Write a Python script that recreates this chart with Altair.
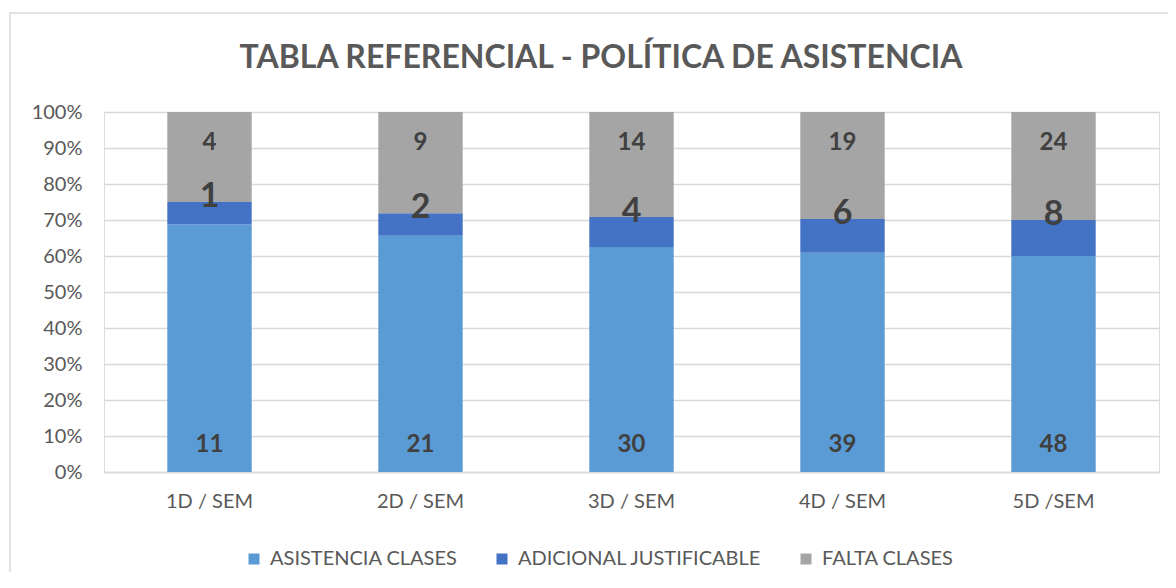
import altair as alt
import pandas as pd

categories = ["1D / SEM", "2D / SEM", "3D / SEM", "4D / SEM", "5D /SEM"]
asistencia = [11, 21, 30, 39, 48]
adicional = [1, 2, 4, 6, 8]
falta = [4, 9, 14, 19, 24]
series = ["ASISTENCIA CLASES", "ADICIONAL JUSTIFICABLE", "FALTA CLASES"]
colors = ["#5B9BD5", "#4472C4", "#A5A5A5"]
ticks = [0, 0.1, 0.2, 0.3, 0.4, 0.5, 0.6, 0.7, 0.8, 0.9, 1.0]
title_text = ["TABLA REFERENCIAL - POLÍTICA DE ASISTENCIA"]

rows = []
for i, c in enumerate(categories):
    for k, (s, vals) in enumerate(zip(series, [asistencia, adicional, falta])):
        rows.append({"cat": c, "serie": s, "ord": k, "value": vals[i]})
df = pd.DataFrame(rows)

FONT = "Lato"
TXT = "#404040"
GRAY = "#595959"

base = alt.Chart(df).transform_stack(
    stack="value", groupby=["cat"], as_=["y0", "y1"], offset="normalize",
    sort=[alt.SortField("ord", order="ascending")]
)

xaxis = alt.Axis(title=None, labelAngle=0, labelFontSize=20, labelColor=GRAY,
                 labelFont=FONT, labelPadding=19, ticks=False,
                 domainColor="#D9D9D9", domainWidth=1.5, grid=False)
xscale = alt.Scale(paddingInner=0.6, paddingOuter=0.3)
yaxis = alt.Axis(title=None, format=".0%", values=ticks, tickCount=11,
                 labelFontSize=20, labelColor=GRAY, labelFont=FONT, labelPadding=22,
                 labelOverlap=False, domain=False, ticks=False,
                 gridColor="#D9D9D9", gridWidth=1.5)
yscale = alt.Scale(domain=[0, 1], nice=False)

bars = base.mark_bar().encode(
    x=alt.X("cat:N", sort=categories, scale=xscale, axis=xaxis),
    y=alt.Y("y1:Q", scale=yscale, axis=yaxis),
    y2="y0",
    color=alt.Color("serie:N", scale=alt.Scale(domain=series, range=colors),
                    legend=alt.Legend(title=None, orient="none", legendX=140, legendY=437,
                                      direction="horizontal", symbolType="square",
                                      symbolSize=121, symbolStrokeWidth=0,
                                      labelFontSize=20, labelColor=GRAY, labelFont=FONT,
                                      labelLimit=0, columnPadding=34, padding=0,
                                      labelOffset=6)),
    order=alt.Order("ord:Q"),
)

lab_asis = base.transform_filter(alt.datum.serie == series[0]).mark_text(
    fontSize=24, fontWeight="bold", color=TXT, font=FONT, dy=-27, baseline="middle"
).encode(x=alt.X("cat:N", sort=categories, scale=xscale, axis=xaxis),
         y=alt.Y(datum=0, scale=yscale, axis=yaxis), text="value:Q")

lab_adic = base.transform_filter(alt.datum.serie == series[1]).mark_text(
    fontSize=34, fontWeight="bold", color=TXT, font=FONT, dy=-5, baseline="middle"
).encode(x=alt.X("cat:N", sort=categories, scale=xscale, axis=xaxis),
         y=alt.Y("y1:Q", scale=yscale, axis=yaxis), text="value:Q")

lab_falta = base.transform_filter(alt.datum.serie == series[2]).mark_text(
    fontSize=24, fontWeight="bold", color=TXT, font=FONT, dy=31, baseline="middle"
).encode(x=alt.X("cat:N", sort=categories, scale=xscale, axis=xaxis),
         y=alt.Y(datum=1, scale=yscale, axis=yaxis), text="value:Q")

border = alt.Chart(pd.DataFrame({"a": [0]})).mark_rect(
    fill=None, stroke="#D9D9D9", strokeWidth=1.5
).encode(x=alt.value(-94), x2=alt.value(1150), y=alt.value(-99), y2=alt.value(560))

title = alt.Chart(pd.DataFrame({"t": title_text})).mark_text(
    fontSize=32, fontWeight="bold", color=GRAY, font=FONT, align="center",
    baseline="alphabetic"
).encode(x=alt.value(497), y=alt.value(-44), text="t:N")

chart = alt.layer(border, bars, lab_asis, lab_adic, lab_falta, title).properties(
    width=1055, height=360,
    autosize=alt.AutoSizeParams(type="none"),
    padding={"left": 96, "top": 104, "right": 9, "bottom": 100},
).configure_view(stroke=None).configure(background="white")

chart.save("out.html", embed_options={"renderer": "svg", "actions": False})
